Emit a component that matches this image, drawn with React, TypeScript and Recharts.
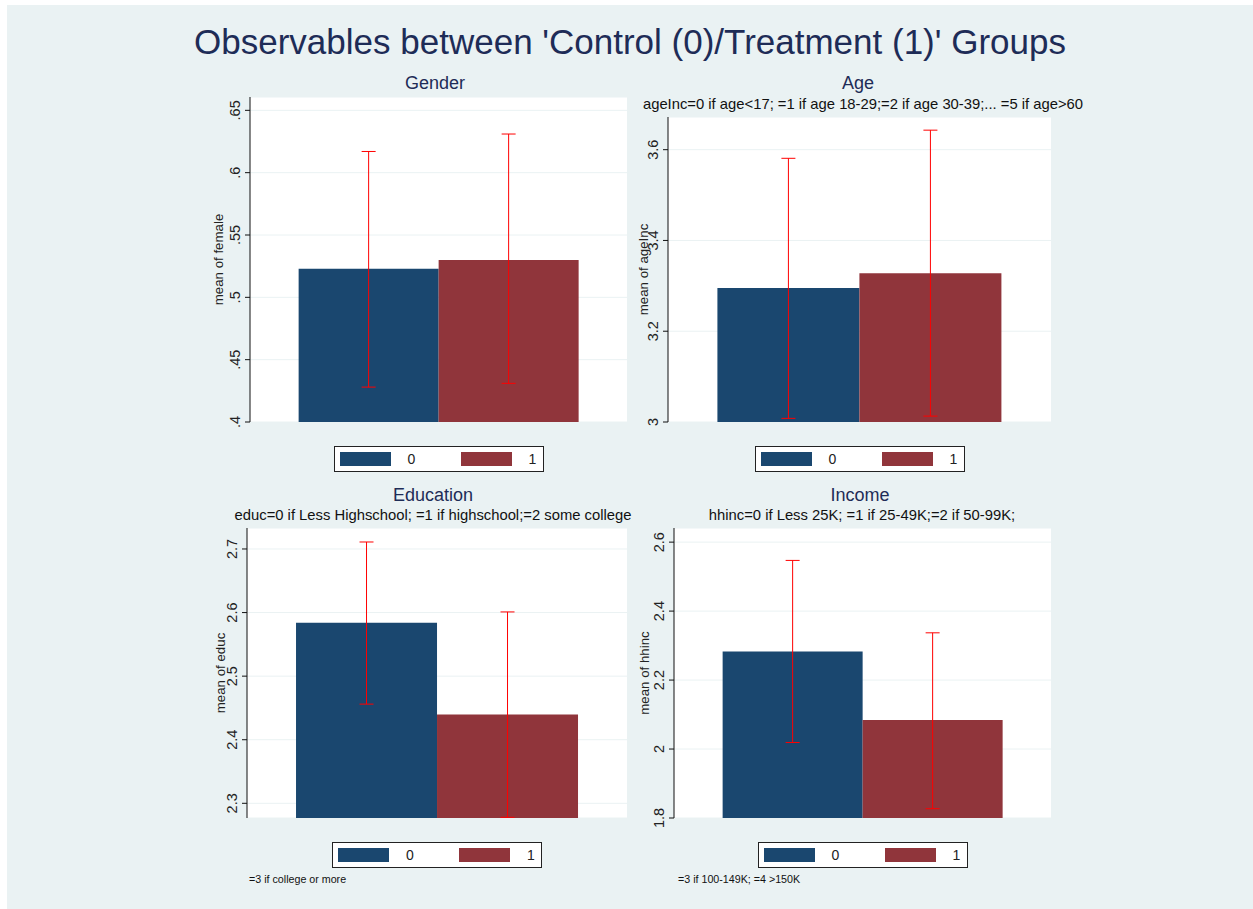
import React from "react"
import { Bar, BarChart, CartesianGrid, ErrorBar, XAxis, YAxis } from "recharts"

// one entry per panel: Gender, Age, Education, Income
const panelTitles = ["Gender", "Age", "Education", "Income"]
const panelSubtitles = [
  "",
  "ageInc=0 if age<17; =1 if age 18-29;=2 if age 30-39;... =5 if age>60",
  "educ=0 if Less Highschool; =1 if highschool;=2 some college",
  "hhinc=0 if Less 25K; =1 if 25-49K;=2 if 50-99K;",
]
const panelNotes = ["", "", "=3 if college or more", "=3 if 100-149K; =4 >150K"]
const yLabels = ["mean of female", "mean of ageInc", "mean of educ", "mean of hhinc"]

const controlMean = [0.523, 3.295, 2.584, 2.283]
const treatMean = [0.530, 3.328, 2.4395, 2.084]
const controlLow = [0.428, 3.008, 2.456, 2.019]
const controlHigh = [0.617, 3.581, 2.711, 2.547]
const treatLow = [0.431, 3.013, 2.278, 1.827]
const treatHigh = [0.631, 3.643, 2.601, 2.337]

const yTicks = [
  [0.4, 0.45, 0.5, 0.55, 0.6, 0.65],
  [3, 3.2, 3.4, 3.6],
  [2.3, 2.4, 2.5, 2.6, 2.7],
  [1.8, 2, 2.2, 2.4, 2.6],
]
const yTickLabels = [
  [".4", ".45", ".5", ".55", ".6", ".65"],
  ["3", "3.2", "3.4", "3.6"],
  ["2.3", "2.4", "2.5", "2.6", "2.7"],
  ["1.8", "2", "2.2", "2.4", "2.6"],
]
const yDomains: [number, number][] = [
  [0.4, 0.6607],
  [3, 3.672],
  [2.2769, 2.733],
  [1.8, 2.641],
]
const groups = ["0", "1"]

// layout (plot area boxes in page pixels)
const plots = [
  { x: 250, y: 97, w: 377, h: 325, labelDx: 3 },
  { x: 668, y: 117, w: 383, h: 305, labelDx: 10 },
  { x: 247, y: 528, w: 380, h: 290, labelDx: 8 },
  { x: 674, y: 528, w: 377, h: 290, labelDx: 5 },
]
const titlePos = [
  { x: 435, y: 89, sx: 0, sy: 0 },
  { x: 858, y: 89, sx: 863, sy: 109 },
  { x: 433, y: 501, sx: 433, sy: 520 },
  { x: 860, y: 501, sx: 862, sy: 520 },
]
const notePos = [null, null, { x: 249, y: 883 }, { x: 678, y: 883 }]

const NAVY = "#1a476f"
const MAROON = "#90353b"
const BG = "#eaf2f3"
const TITLE = "#1e2c57"
const FONT = "'Liberation Sans', Arial, sans-serif"

const AXIS_W = 70
const PAD = 20

function RotTick(props: any) {
  const { x, y, payload, panel } = props
  const i = yTicks[panel].indexOf(payload.value)
  const label = i >= 0 ? yTickLabels[panel][i] : String(payload.value)
  return (
    <text
      x={x}
      y={y}
      transform={`rotate(-90 ${x} ${y})`}
      textAnchor="middle"
      fontSize={14.5}
      fontFamily={FONT}
      fill="#222"
    >
      {label}
    </text>
  )
}

function Panel({ i }: { i: number }) {
  const p = plots[i]
  const data = [
    {
      name: "all",
      c: controlMean[i],
      t: treatMean[i],
      ce: [controlMean[i] - controlLow[i], controlHigh[i] - controlMean[i]],
      te: [treatMean[i] - treatLow[i], treatHigh[i] - treatMean[i]],
    },
  ]
  return (
    <div style={{ position: "absolute", left: p.x - AXIS_W, top: p.y - PAD }}>
      <BarChart
        width={AXIS_W + p.w + 10}
        height={p.h + PAD * 2}
        data={data}
        margin={{ top: PAD, right: 10, bottom: PAD, left: 0 }}
        barCategoryGap="12.9%"
        barGap={0}
      >
        <CartesianGrid vertical={false} stroke={BG} fill="#ffffff" />
        <XAxis dataKey="name" tick={false} tickLine={false} height={0} axisLine={{ stroke: "#111" }} />
        <YAxis
          width={AXIS_W}
          type="number"
          domain={yDomains[i]}
          allowDataOverflow
          ticks={yTicks[i]}
          interval={0}
          tickSize={5}
          tickMargin={5}
          axisLine={{ stroke: "#111" }}
          tickLine={{ stroke: "#111" }}
          tick={<RotTick panel={i} />}
          label={{
            value: yLabels[i],
            angle: -90,
            position: "center",
            dx: p.labelDx,
            fontSize: 13.3,
            fontFamily: FONT,
            fill: "#222",
          }}
        />
        <Bar dataKey="c" name={groups[0]} fill={NAVY} isAnimationActive={false}>
          <ErrorBar dataKey="ce" width={7} stroke="#ff0000" strokeWidth={1} />
        </Bar>
        <Bar dataKey="t" name={groups[1]} fill={MAROON} isAnimationActive={false}>
          <ErrorBar dataKey="te" width={7} stroke="#ff0000" strokeWidth={1} />
        </Bar>
      </BarChart>
    </div>
  )
}

function LegendBox({ i }: { i: number }) {
  const p = plots[i]
  const left = p.x + p.w / 2 - 105
  const top = p.y + p.h + 24
  const item = (color: string, label: string, x: number) => (
    <React.Fragment key={label}>
      <div style={{ position: "absolute", left: x, top: 5, width: 51, height: 14, background: color }} />
      <div
        style={{
          position: "absolute",
          left: x + 62,
          top: 3,
          width: 20,
          textAlign: "center",
          fontSize: 14,
          lineHeight: "18px",
          color: "#222",
        }}
      >
        {label}
      </div>
    </React.Fragment>
  )
  return (
    <div
      style={{
        position: "absolute",
        left,
        top,
        width: 210,
        height: 26,
        boxSizing: "border-box",
        border: "1px solid #222",
        background: "#fff",
        fontFamily: FONT,
      }}
    >
      {item(NAVY, groups[0], 5)}
      {item(MAROON, groups[1], 126)}
    </div>
  )
}

export default function App() {
  return (
    <div style={{ position: "absolute", left: 0, top: 0, width: 1253, height: 909, background: "#fff", overflow: "hidden" }}>
      <div style={{ position: "absolute", left: 7, top: 5, width: 1246, height: 904, background: BG }} />
      <svg style={{ position: "absolute", left: 0, top: 0 }} width={1253} height={909} fontFamily={FONT}>
        <text x={630} y={54} textAnchor="middle" fontSize={35} fill={TITLE}>
          Observables between 'Control (0)/Treatment (1)' Groups
        </text>
        {panelTitles.map((t, i) => (
          <g key={t}>
            <text x={titlePos[i].x} y={titlePos[i].y} textAnchor="middle" fontSize={18} fill={TITLE}>
              {t}
            </text>
            {panelSubtitles[i] && (
              <text x={titlePos[i].sx} y={titlePos[i].sy} textAnchor="middle" fontSize={14.8} fill="#111">
                {panelSubtitles[i]}
              </text>
            )}
            {notePos[i] && (
              <text x={notePos[i]!.x} y={notePos[i]!.y} fontSize={10.7} fill="#111">
                {panelNotes[i]}
              </text>
            )}
          </g>
        ))}
      </svg>
      {plots.map((_, i) => (
        <Panel key={i} i={i} />
      ))}
      {plots.map((_, i) => (
        <LegendBox key={i} i={i} />
      ))}
    </div>
  )
}
